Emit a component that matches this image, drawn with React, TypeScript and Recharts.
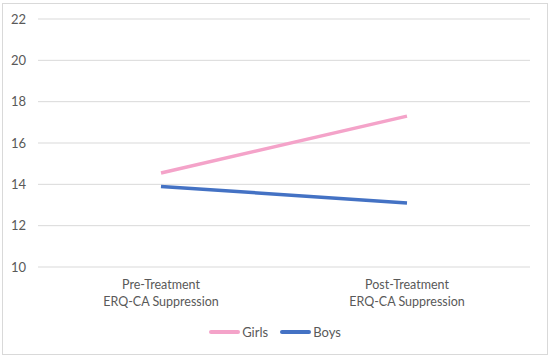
import { LineChart, Line, XAxis, YAxis, CartesianGrid, Legend } from "recharts";

// Mean ERQ-CA suppression scores by gender
const categories = ["Pre-Treatment|ERQ-CA Suppression", "Post-Treatment|ERQ-CA Suppression"];
const girls = [14.55, 17.3];
const boys = [13.9, 13.1];
const yTicks = [10, 12, 14, 16, 18, 20, 22];

const series = [
  { key: "Girls", color: "#F4A3C9" },
  { key: "Boys", color: "#4472C4" },
];

const data = categories.map((c, i) => ({ name: c, Girls: girls[i], Boys: boys[i] }));

const FONT = "Lato, 'Open Sans', sans-serif";
const TEXT = "#595959";

// two-line category label, split on "|"
function CategoryTick(props: any) {
  const { x, y, payload } = props;
  const lines = String(payload.value).split("|");
  return (
    <text x={x} y={y} textAnchor="middle" fill={TEXT} fontSize={12.5} fontFamily={FONT}>
      {lines.map((l, i) => (
        <tspan key={i} x={x} dy={i === 0 ? 14 : 17}>
          {l}
        </tspan>
      ))}
    </text>
  );
}

function LegendContent() {
  return (
    <div style={{ display: "flex", justifyContent: "center", alignItems: "center", gap: 12, height: 20, fontFamily: FONT, fontSize: 13, color: TEXT }}>
      {series.map((s) => (
        <div key={s.key} style={{ display: "flex", alignItems: "center" }}>
          <span style={{ display: "inline-block", width: 31, height: 4, background: s.color, borderRadius: 2, marginRight: 2 }} />
          <span>{s.key}</span>
        </div>
      ))}
    </div>
  );
}

export default function App() {
  return (
    <div style={{ position: "absolute", left: 0, top: 0, width: 550, height: 357, background: "#fff" }}>
      {/* chart frame */}
      <div style={{ position: "absolute", left: 2, top: 3, width: 544, height: 350, border: "1px solid #d9d9d9" }} />
      <LineChart width={550} height={357} data={data} margin={{ top: 19, right: 20, bottom: 15, left: 0 }}>
        <CartesianGrid vertical={false} stroke="#d9d9d9" />
        <XAxis
          dataKey="name"
          axisLine={false}
          tickLine={false}
          height={55}
          tick={<CategoryTick />}
          interval={0}
          padding={{ left: 123, right: 123 }}
        />
        <YAxis
          domain={[10, 22]}
          ticks={yTicks}
          width={38}
          axisLine={false}
          tickLine={false}
          tickMargin={6}
          tick={{ fill: TEXT, fontSize: 13, fontFamily: FONT }}
        />
        <Legend
          verticalAlign="bottom"
          height={20}
          wrapperStyle={{ left: 0, width: 550 }}
          content={<LegendContent />}
        />
        {series.map((s) => (
          <Line
            key={s.key}
            dataKey={s.key}
            stroke={s.color}
            strokeWidth={3.5}
            dot={false}
            activeDot={false}
            isAnimationActive={false}
          />
        ))}
      </LineChart>
    </div>
  );
}
